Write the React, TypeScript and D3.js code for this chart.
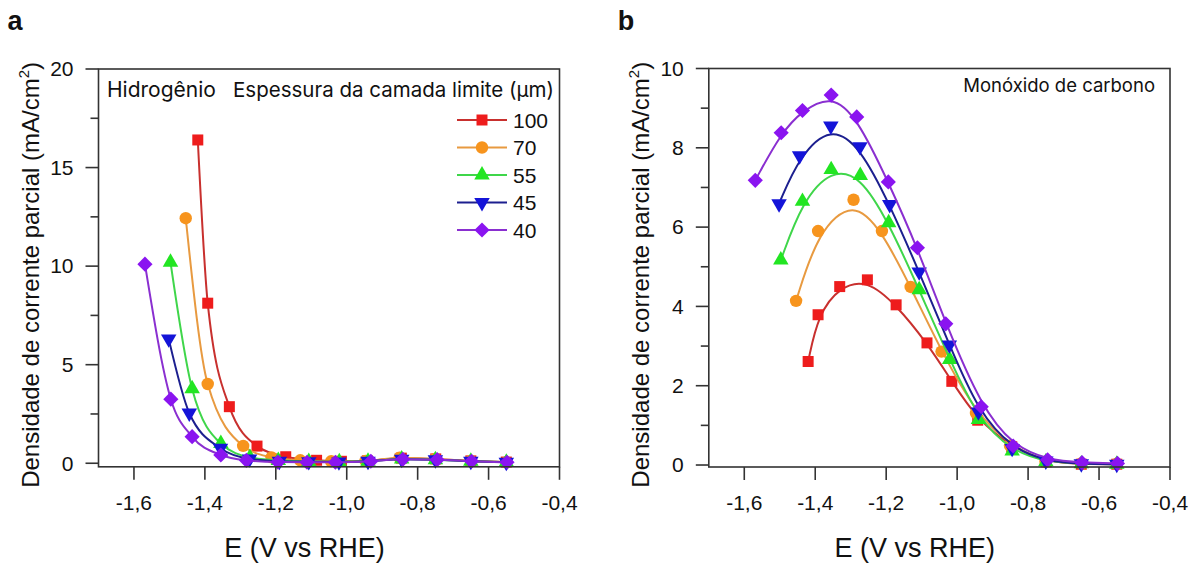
import React from 'react';
import * as d3 from 'd3';

// ---- data ----
const seriesLabels = ['100', '70', '55', '45', '40'];
const markerColors = ['#ee1c1c', '#f7941d', '#22e522', '#1414d8', '#8a14f0'];
const lineColors = ['#c8302e', '#e89a40', '#3fd64a', '#1c1f8f', '#8a2fd0'];
const markerShapes = ['square', 'circle', 'triangleUp', 'triangleDown', 'diamond'];

const e100 = [-1.420, -1.392, -1.331, -1.253, -1.172, -1.085, -1.015, -0.942, -0.846, -0.749, -0.650, -0.550];
const e70 = [-1.454, -1.392, -1.292, -1.212, -1.131, -1.044, -0.947, -0.851, -0.751, -0.650, -0.550];
const e55 = [-1.497, -1.436, -1.355, -1.273, -1.193, -1.107, -1.021, -0.940, -0.845, -0.750, -0.650, -0.550];
const e45 = [-1.502, -1.444, -1.356, -1.274, -1.190, -1.107, -1.022, -0.940, -0.845, -0.750, -0.650, -0.550];
const e40 = [-1.569, -1.496, -1.436, -1.355, -1.283, -1.194, -1.112, -1.032, -0.932, -0.842, -0.745, -0.648, -0.548];

// Hydrogen partial current density (mA/cm2)
const h100 = [16.4, 8.12, 2.87, 0.87, 0.33, 0.15, 0.10, 0.12, 0.26, 0.22, 0.12, 0.06];
const h70 = [12.43, 4.02, 0.88, 0.30, 0.15, 0.10, 0.12, 0.28, 0.22, 0.12, 0.05];
const h55 = [10.2, 3.78, 1.0, 0.30, 0.14, 0.09, 0.08, 0.10, 0.22, 0.18, 0.10, 0.05];
const h45 = [6.31, 2.55, 0.76, 0.22, 0.10, 0.08, 0.07, 0.10, 0.20, 0.18, 0.10, 0.05];
const h40 = [10.1, 3.25, 1.35, 0.42, 0.15, 0.06, 0.05, 0.05, 0.10, 0.20, 0.18, 0.10, 0.05];

// CO partial current density (mA/cm2)
const c100 = [2.61, 3.79, 4.50, 4.67, 4.04, 3.08, 2.11, 1.13, 0.46, 0.08, 0.02, 0.02];
const c70 = [4.14, 5.90, 6.69, 5.90, 4.49, 2.86, 1.31, 0.49, 0.08, 0.04, 0.03];
const c55 = [5.17, 6.65, 7.45, 7.30, 6.11, 4.42, 2.66, 1.15, 0.35, 0.08, 0.03, 0.02];
const c45 = [6.59, 7.80, 8.55, 8.03, 6.57, 4.87, 3.03, 1.34, 0.42, 0.10, 0.03, 0.02];
const c40 = [7.18, 8.38, 8.94, 9.33, 8.78, 7.14, 5.48, 3.56, 1.47, 0.48, 0.13, 0.06, 0.04];

const potentials = [e100, e70, e55, e45, e40];
const hydrogen = [h100, h70, h55, h45, h40];
const carbonMonoxide = [c100, c70, c55, c45, c40];

const xTicks = [-1.6, -1.4, -1.2, -1.0, -0.8, -0.6, -0.4];
const yTicksA = [0, 5, 10, 15, 20];
const yMinorA = [2.5, 7.5, 12.5, 17.5];
const yTicksB = [0, 2, 4, 6, 8, 10];
const yMinorB = [1, 3, 5, 7, 9];

const xTitle = 'E (V vs RHE)';
const yTitle = 'Densidade de corrente parcial (mA/cm';

const ARIAL = '"Liberation Sans", Arial, sans-serif';
const INTER = 'Inter, "Noto Sans", sans-serif';
const AXIS = '#333';

function symbolPath(shape: string) {
  switch (shape) {
    case 'square':
      return d3.symbol(d3.symbolSquare, 121)()!;
    case 'circle':
      return d3.symbol(d3.symbolCircle, 121)()!;
    case 'triangleUp':
    case 'triangleDown':
      return d3.symbol(d3.symbolTriangle, 104)()!;
    case 'diamond':
      return d3.symbol(d3.symbolSquare, 115)()!;
  }
  return '';
}
function symbolRotate(shape: string) {
  if (shape === 'triangleDown') return 180;
  if (shape === 'diamond') return 45;
  return 0;
}

const fmt = (v: number) => v.toFixed(1).replace('.', ',');

function Panel({ left, right, top, bottom, yDomain, yTicks, yMinor, values, curve, letter }: any) {
  const x = d3.scaleLinear().domain([-1.7, -0.4]).range([left, right]);
  const y = d3.scaleLinear().domain(yDomain).range([bottom, top]);
  const line = d3
    .line<[number, number]>()
    .x((d) => x(d[0]))
    .y((d) => y(d[1]))
    .curve(curve);
  const titleCx = left + 206;
  return (
    <g>
      <text x={left - 91} y={30} fontFamily={ARIAL} fontWeight="bold" fontSize={27} fill="#111">
        {letter}
      </text>
      {/* series */}
      {values.map((vals: number[], i: number) => {
        const pts: [number, number][] = vals.map((v, j) => [potentials[i][j], v]);
        const p = symbolPath(markerShapes[i]);
        const rot = symbolRotate(markerShapes[i]);
        return (
          <g key={i}>
            <path d={line(pts)!} fill="none" stroke={lineColors[i]} strokeWidth={2} />
            {pts.map((d, j) => (
              <path
                key={j}
                d={p}
                transform={`translate(${x(d[0])},${y(d[1])}) rotate(${rot})`}
                fill={markerColors[i]}
              />
            ))}
          </g>
        );
      })}
      {/* frame */}
      <rect x={left} y={top} width={right - left} height={bottom - top} fill="none" stroke={AXIS} strokeWidth={1.6} />
      {/* x ticks */}
      {xTicks.map((t) => (
        <g key={t}>
          <line x1={x(t)} x2={x(t)} y1={bottom} y2={bottom + 13} stroke={AXIS} strokeWidth={1.6} />
          <text x={x(t)} y={510} textAnchor="middle" fontFamily={ARIAL} fontSize={21} fill="#111">
            {fmt(t)}
          </text>
        </g>
      ))}
      {/* y ticks */}
      {yTicks.map((t: number) => (
        <g key={t}>
          <line x1={left - 13} x2={left} y1={y(t)} y2={y(t)} stroke={AXIS} strokeWidth={1.6} />
          <text x={left - 25} y={y(t)} dy="0.35em" textAnchor="end" fontFamily={ARIAL} fontSize={21} fill="#111">
            {t}
          </text>
        </g>
      ))}
      {yMinor.map((t: number) => (
        <line key={t} x1={left - 8} x2={left} y1={y(t)} y2={y(t)} stroke={AXIS} strokeWidth={1.6} />
      ))}
      {/* axis titles */}
      <text x={titleCx} y={557} textAnchor="middle" fontFamily={ARIAL} fontSize={27} fill="#111">
        {xTitle}
      </text>
      <text
        transform={`translate(${left - 68},${(top + bottom) / 2 + 7}) rotate(-90)`}
        textAnchor="middle"
        dy="0.35em"
        fontFamily={ARIAL}
        fontSize={24}
        fill="#111"
      >
        {yTitle}
        <tspan fontSize={15} dy={-10}>2</tspan>
        <tspan dy={10}>)</tspan>
      </text>
    </g>
  );
}

export default function App() {
  const legendRows = [120, 147.5, 175, 202.5, 230];
  return (
    <svg
      width={1198}
      height={566}
      style={{ position: 'absolute', left: 0, top: 0, background: '#fff' }}
      xmlns="http://www.w3.org/2000/svg"
    >
      <rect width={1198} height={566} fill="#fff" />
      <Panel
        left={98.5}
        right={559.5}
        top={69}
        bottom={466.8}
        yDomain={[-0.18, 20]}
        yTicks={yTicksA}
        yMinor={yMinorA}
        values={hydrogen}
        curve={d3.curveMonotoneX}
        letter="a"
      />
      <Panel
        left={708.8}
        right={1170}
        top={68.5}
        bottom={467}
        yDomain={[-0.05, 10]}
        yTicks={yTicksB}
        yMinor={yMinorB}
        values={carbonMonoxide}
        curve={d3.curveBasis}
        letter="b"
      />
      {/* panel a annotations and legend */}
      <text x={107} y={97} fontFamily={INTER} fontSize={21} fill="#111">Hidrogênio</text>
      <text x={554} y={97} textAnchor="end" fontFamily={INTER} fontSize={20.5} fill="#111">
        Espessura da camada limite (μm)
      </text>
      {seriesLabels.map((lab, i) => (
        <g key={lab}>
          <line x1={457} x2={507} y1={legendRows[i]} y2={legendRows[i]} stroke={lineColors[i]} strokeWidth={2} />
          <path
            d={symbolPath(markerShapes[i])}
            transform={`translate(482,${legendRows[i]}) rotate(${symbolRotate(markerShapes[i])})`}
            fill={markerColors[i]}
          />
          <text x={513} y={legendRows[i]} dy="0.36em" fontFamily={ARIAL} fontSize={21} fill="#111">
            {lab}
          </text>
        </g>
      ))}
      {/* panel b annotation */}
      <text x={1155} y={92} textAnchor="end" fontFamily={INTER} fontSize={18.5} fill="#111">
        Monóxido de carbono
      </text>
    </svg>
  );
}
